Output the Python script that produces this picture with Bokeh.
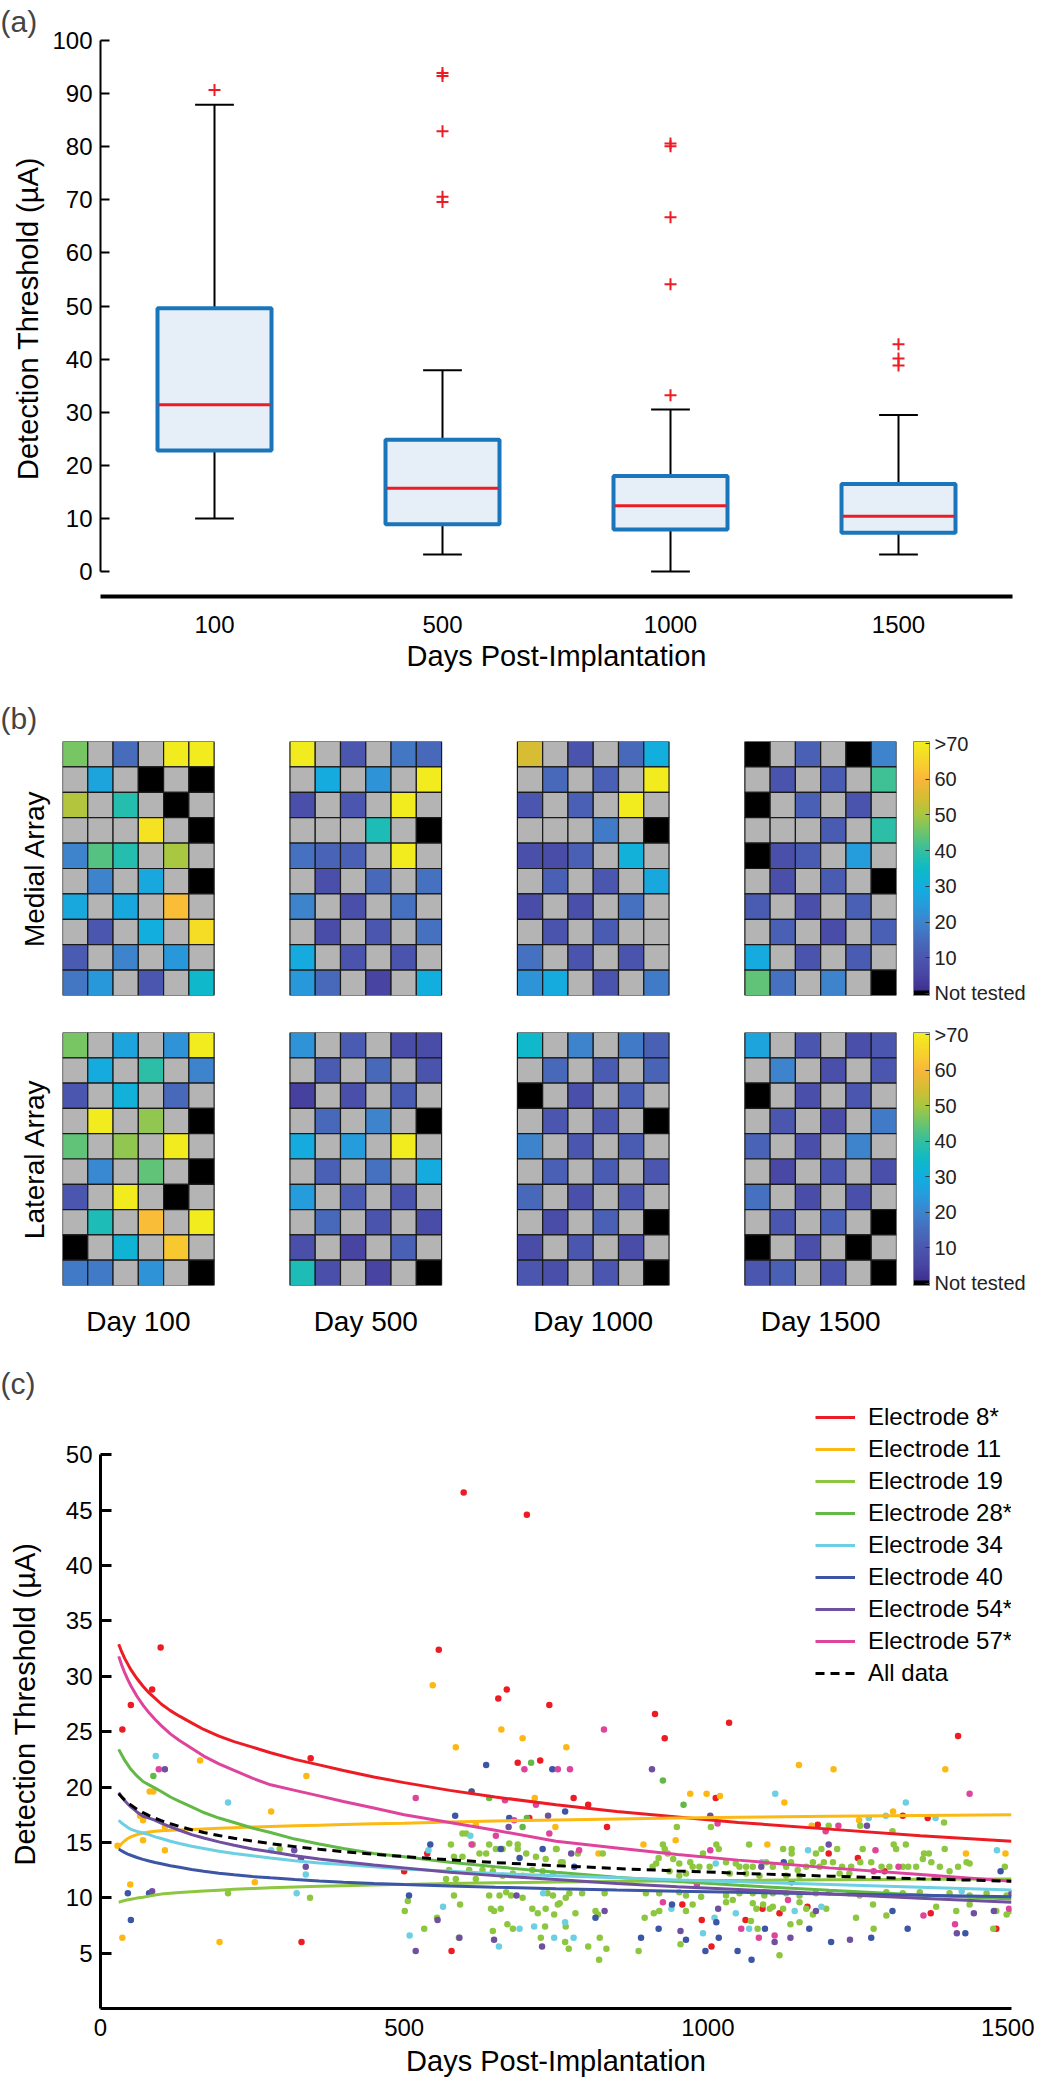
import numpy as np
from bokeh.plotting import figure
from bokeh.models import (Range1d, FactorRange, FixedTicker, LinearColorMapper, ColorBar,
                          Legend, LegendItem, ColumnDataSource, LinearAxis)
from bokeh.transform import dodge
from bokeh.layouts import column
from bokeh.embed import file_html
from bokeh.resources import INLINE

FONT = "Liberation Sans"

# ---------------- Panel (a): box plot data ----------------
box_days = ["100", "500", "1000", "1500"]
box_low = [10.0, 3.2, 0.0, 3.2]
box_q1 = [22.8, 8.9, 7.9, 7.3]
box_median = [31.4, 15.7, 12.4, 10.4]
box_q3 = [49.6, 24.8, 18.0, 16.5]
box_high = [87.9, 37.9, 30.5, 29.5]
outlier_day = ["100", "500", "500", "500", "500", "500", "1000", "1000", "1000", "1000", "1000",
               "1500", "1500", "1500"]
outlier_value = [90.7, 93.9, 93.3, 82.9, 70.6, 69.6, 80.6, 80.1, 66.7, 54.1, 33.2, 42.8, 40.1, 38.8]

# ---------------- Panel (b): electrode maps (G = unused, 0 = not tested) ----------------
G = None
grid_labels = ["Day 100", "Day 500", "Day 1000", "Day 1500"]
medial_d100 = [[46, G, 15, G, 70, 70], [G, 27, G, 0, G, 0], [51, G, 38, G, 0, G], [G, G, G, 68, G, 0],
               [20, 43, 38, G, 50, G], [G, 20, G, 28, G, 0], [28, G, 28, G, 61, G], [G, 10, G, 30, G, 67],
               [11, G, 20, G, 24, G], [17, 24, G, 10, G, 34]]
medial_d500 = [[70, G, 10, G, 17, 14], [G, 29, G, 23, G, 70], [8, G, 10, G, 70, G], [G, G, G, 37, G, 0],
               [16, 13, 12, G, 70, G], [G, 8, G, 14, G, 16], [20, G, 8, G, 16, G], [G, 7, G, 10, G, 16],
               [29, G, 9, G, 9, G], [24, 14, G, 5, G, 30]]
medial_d1000 = [[55, G, 9, G, 14, 30], [G, 14, G, 12, G, 70], [10, G, 12, G, 70, G], [G, G, G, 18, G, 0],
                [8, 7, 12, G, 31, G], [G, 12, G, 10, G, 28], [7, G, 8, G, 16, G], [G, 9, G, 11, G, G],
                [16, G, 9, G, 9, G], [23, 29, G, 9, G, 18]]
medial_d1500 = [[0, G, 12, G, 0, 20], [G, 9, G, 11, G, 41], [0, G, 12, G, 9, G], [G, G, G, 11, G, 39],
                [0, 8, 11, G, 25, G], [G, 8, G, 11, G, 0], [11, G, 8, G, 12, G], [G, 12, G, 7, G, 12],
                [29, G, 9, G, 11, G], [44, 16, G, 20, G, 0]]
lateral_d100 = [[46, G, 27, G, 23, 70], [G, 29, G, 39, G, 20], [10, G, 31, G, 14, G], [G, 70, G, 48, G, 0],
                [44, G, 48, G, 70, G], [G, 21, G, 44, G, 0], [10, G, 70, G, 0, G], [G, 37, G, 61, G, 70],
                [0, G, 32, G, 63, G], [18, 18, G, 23, G, 0]]
lateral_d500 = [[23, G, 11, G, 7, 7], [G, 11, G, 14, G, 9], [4, G, 8, G, 11, G], [G, 14, G, 20, G, 0],
                [29, G, 25, G, 70, G], [G, 12, G, 16, G, 29], [25, G, 11, G, 9, G], [G, 14, G, 9, G, 7],
                [8, G, 5, G, 12, G], [37, 8, G, 5, G, 0]]
lateral_d1000 = [[34, G, 20, G, 18, 12], [G, 14, G, 11, G, 13], [0, G, 8, G, 12, G], [G, 10, G, 10, G, 0],
                 [20, G, 10, G, 11, G], [G, 12, G, 11, G, 10], [14, G, 8, G, 10, G], [G, 7, G, 12, G, 0],
                 [7, G, 10, G, 7, G], [10, 8, G, 10, G, 0]]
lateral_d1500 = [[27, G, 10, G, 8, 10], [G, 20, G, 8, G, 10], [0, G, 8, G, 10, G], [G, 10, G, 7, G, 18],
                 [13, G, 8, G, 20, G], [G, 6, G, 10, G, 8], [16, G, 7, G, 8, G], [G, 10, G, 12, G, 0],
                 [0, G, 8, G, 0, G], [10, 12, G, 9, G, 0]]
cbar_ticks = [0, 10, 20, 30, 40, 50, 60, 70]

# colormap anchors (value -> colour)
cmap_values = [0, 5, 10, 15, 20, 25, 30, 35, 40, 45, 50, 55, 60, 65, 70]
cmap_colors = ["#3e2b8c", "#4845a2", "#4b57ae", "#476cbc", "#3d84cd", "#259ddd", "#11aede", "#0fbac6",
               "#32bfa0", "#6bc46e", "#a8c740", "#d6bd34", "#f9b73a", "#f7d32c", "#f2ec1e"]

# ---------------- Panel (c): thresholds per electrode ----------------
e8_days = [36, 50, 85, 99, 331, 346, 500, 538, 557, 578, 598, 655, 669, 687, 702, 706, 724, 739, 779, 803,
           834, 913, 929, 958, 990, 1006, 1013, 1035, 1062, 1090, 1118, 1138, 1164, 1181, 1199, 1247, 1291,
           1321, 1362, 1367, 1412, 1475]
e8_vals = [25.2, 27.4, 28.8, 32.6, 6.0, 22.6, 12.4, 14.0, 32.4, 5.2, 46.6, 28.0, 28.8, 22.2, 44.6, 17.2, 22.4,
           27.4, 19.0, 18.4, 16.4, 26.6, 24.4, 9.4, 8.0, 5.6, 19.0, 25.8, 8.0, 9.0, 8.6, 11.4, 9.2, 16.6, 14.0,
           13.6, 12.4, 17.4, 17.2, 8.6, 24.6, 7.2]
e11_days = [28, 36, 49, 65, 70, 70, 81, 87, 106, 106, 164, 196, 254, 281, 339, 547, 585, 611, 618, 660, 695,
            715, 749, 767, 820, 894, 947, 971, 998, 1020, 1098, 1126, 1150, 1171, 1207, 1249, 1305, 1391,
            1425, 1490]
e11_vals = [14.7, 6.4, 11.2, 17.4, 17.0, 15.2, 19.6, 19.6, 16.4, 14.3, 22.4, 6.0, 11.4, 17.8, 21.0, 29.2,
            23.6, 19.6, 16.6, 25.2, 24.4, 19.0, 16.4, 23.6, 14.0, 14.8, 15.2, 19.4, 19.4, 19.2, 14.8, 18.6,
            22.0, 16.5, 21.6, 17.0, 17.8, 21.6, 14.0, 14.0]
e19_days = [577, 596, 602, 613, 624, 635, 640, 651, 662, 673, 687, 687, 701, 717, 733, 750, 758, 582, 596,
            574, 585, 569, 607, 618, 629, 646, 662, 679, 695, 711, 728, 745, 582, 592, 640, 657, 643, 648,
            659, 668, 676, 695, 711, 720, 733, 747, 756, 736, 670, 679, 646, 732, 725, 590, 506, 501, 533,
            554, 345, 210, 295,
            949, 1005, 1199, 1251, 1304, 1389, 926, 929, 1014, 1018, 1068, 1124, 1138, 1138, 1178, 1187,
            1213, 1255, 1306, 1310, 1326, 1356, 1364, 1390, 1354, 751, 786, 827, 761, 909, 915, 919, 934,
            943, 953, 971, 975, 986, 992, 1003, 1030, 1046, 1052, 1063, 1074, 1096, 1107, 1129, 1137, 1148,
            1162, 1173, 1184, 1191, 1206, 1221, 1236, 1251, 1269, 1286, 1299, 1321, 1330, 1343, 1368, 1382,
            1398, 1412, 1426, 1431, 1489, 937, 953, 964, 1036, 1063, 1085, 1129, 1151, 1217, 1233, 745,
            766, 772, 793, 830, 898, 920, 953, 964, 989, 1030, 1052, 1074, 1093, 1107, 1129, 1151, 1178,
            1200, 1233, 1250, 1294, 1321, 1349, 1398, 1431, 1459, 1492, 753, 975, 1030, 1041, 1074, 1080,
            1091, 1102, 1107, 1124, 1151, 1162, 1173, 1195, 1272, 1294, 1376, 1409, 1431, 1475, 1492, 1498,
            766, 896, 1071, 1082, 1136, 1151, 1244, 1273, 1470, 765, 771, 803, 821, 833, 822, 886, 955,
            1118, 782, 815, 819, 911, 920, 964]
e19_vals = [14.8, 15.8, 15.8, 14.8, 14.0, 14.0, 14.8, 14.4, 14.4, 14.9, 14.8, 14.4, 14.0, 13.7, 13.5, 14.4,
            13.2, 13.7, 13.7, 12.5, 11.7, 11.7, 12.5, 11.7, 12.5, 12.4, 12.0, 12.2, 12.0, 12.5, 12.4, 12.2,
            10.2, 9.4, 10.2, 10.2, 9.0, 8.8, 9.0, 10.5, 10.2, 10.0, 9.0, 8.6, 9.0, 8.5, 9.5, 10.4, 7.6, 7.2,
            7.0, 7.4, 6.4, 6.4, 9.7, 8.8, 7.2, 8.2, 10.0, 10.4, 14.4,
            16.4, 16.4, 16.5, 16.5, 16.0, 16.8, 14.8, 14.4, 14.8, 14.4, 14.8, 14.4, 14.4, 14.0, 14.0, 14.4,
            14.4, 14.4, 14.8, 14.4, 14.8, 14.0, 14.0, 14.4, 13.5, 14.4, 14.0, 14.0, 13.2, 12.8, 13.1, 13.6,
            14.0, 13.5, 13.1, 13.2, 12.8, 12.8, 14.0, 12.8, 13.2, 13.1, 12.8, 12.8, 12.8, 13.2, 12.8, 12.8,
            13.2, 12.5, 12.8, 13.2, 12.8, 13.2, 13.2, 12.8, 12.8, 13.2, 13.2, 12.8, 12.8, 12.8, 12.8, 12.8,
            13.2, 12.8, 12.4, 12.8, 13.2, 13.1, 12.8, 12.4, 12.0, 12.2, 12.2, 12.2, 12.0, 12.0, 12.0, 12.2,
            12.2, 10.2, 10.0, 10.4, 10.4, 10.4, 10.4, 10.4, 10.5, 10.2, 10.1, 10.2, 10.4, 10.4, 10.2, 10.4,
            10.4, 10.2, 10.4, 10.5, 10.4, 10.2, 10.5, 10.4, 10.5, 10.4, 10.2, 10.4, 10.2, 9.4, 9.4, 9.6, 9.8,
            9.5, 9.0, 9.4, 9.0, 9.2, 9.0, 9.6, 9.0, 8.5, 9.0, 9.4, 8.4, 9.2, 8.8, 9.4, 8.8, 8.5, 8.8, 7.4,
            8.2, 7.9, 7.2, 7.6, 7.8, 8.2, 7.2, 7.2, 6.0, 5.4, 5.6, 4.4, 5.4, 6.4, 5.2, 5.8, 4.8, 8.6, 8.8,
            8.5, 8.6, 8.8, 8.8]
e28_days = [87, 640, 695, 702, 709, 926, 960]
e28_vals = [21.0, 19.0, 16.4, 17.2, 22.2, 20.6, 18.4]
e34_days = [91, 210, 281, 323, 338, 509, 540, 564, 609, 656, 690, 714, 729, 747, 765, 779, 940, 992, 1011,
            1013, 1046, 1068, 1089, 1111, 1143, 1165, 1187, 1265, 1293, 1326, 1375, 1418, 1476]
e34_vals = [22.8, 18.6, 14.3, 10.4, 12.1, 6.6, 14.3, 9.2, 15.6, 5.6, 7.2, 7.4, 10.4, 6.4, 7.8, 6.4, 9.0, 6.8,
            8.2, 13.1, 8.6, 7.2, 13.2, 19.4, 8.8, 14.3, 9.2, 17.2, 17.4, 18.6, 17.2, 10.6, 14.3]
e40_days = [45, 50, 80, 508, 543, 584, 611, 635, 659, 673, 690, 728, 744, 765, 780, 815, 890, 919, 941, 964,
            996, 1014, 1018, 1049, 1072, 1094, 1125, 1167, 1203, 1269, 1304, 1329, 1424, 1482]
e40_vals = [10.4, 8.0, 10.4, 10.2, 14.8, 17.4, 19.6, 22.0, 14.4, 17.2, 13.6, 14.4, 21.6, 17.8, 12.8, 8.2, 6.4,
            7.2, 9.4, 6.2, 5.2, 7.8, 6.4, 5.2, 4.4, 7.2, 13.2, 7.2, 6.0, 6.4, 8.8, 7.2, 6.8, 12.4]
e54_days = [85, 106, 319, 330, 338, 519, 555, 591, 648, 672, 685, 727, 737, 775, 830, 908, 955, 1004, 1017,
            1088, 1110, 1136, 1178, 1199, 1234, 1262, 1410, 1438, 1471, 1500]
e54_vals = [10.6, 21.6, 14.3, 13.5, 12.8, 5.2, 8.0, 6.4, 6.2, 16.4, 10.2, 5.6, 17.4, 14.0, 8.8, 21.6, 7.0,
            17.4, 9.0, 12.8, 6.0, 6.4, 8.8, 14.8, 6.2, 16.5, 6.8, 8.6, 8.8, 10.4]
e57_days = [96, 519, 611, 651, 666, 681, 698, 717, 739, 753, 773, 788, 829, 926, 982, 1004, 1016, 1055, 1084,
            1110, 1132, 1194, 1215, 1273, 1276, 1314, 1355, 1407, 1431, 1496]
e57_vals = [21.6, 19.0, 14.8, 15.6, 18.8, 17.0, 21.6, 18.4, 15.8, 21.6, 21.6, 14.3, 25.2, 9.6, 11.2, 14.3,
            16.7, 7.2, 6.4, 6.6, 9.8, 16.0, 16.5, 12.4, 14.3, 12.8, 8.4, 7.6, 19.4, 9.0]

# fitted curves at these days
fit_days = [30, 35, 40, 45, 50, 60, 70, 80, 90, 100, 115, 130, 150, 170, 195, 220, 250, 280, 320, 360, 400,
            450, 500, 575, 650, 750, 850, 950, 1050, 1200, 1350, 1500]
fit_e8 = [32.9, 32.2, 31.6, 31.1, 30.6, 29.8, 29.1, 28.5, 28.0, 27.5, 26.9, 26.4, 25.8, 25.2, 24.6, 24.1,
          23.6, 23.1, 22.5, 22.0, 21.5, 20.9, 20.4, 19.7, 19.1, 18.4, 17.8, 17.3, 16.8, 16.2, 15.6, 15.1]
fit_e11 = [14.6, 14.9, 15.15, 15.35, 15.5, 15.7, 15.85, 15.95, 16.0, 16.05, 16.1, 16.12, 16.17, 16.22, 16.28,
           16.33, 16.39, 16.44, 16.5, 16.56, 16.62, 16.68, 16.74, 16.84, 16.93, 17.03, 17.12, 17.2, 17.27,
           17.36, 17.44, 17.5]
fit_e19 = [9.6, 9.68, 9.75, 9.82, 9.87, 9.97, 10.05, 10.15, 10.25, 10.33, 10.4, 10.47, 10.55, 10.62, 10.69,
           10.76, 10.83, 10.9, 10.97, 11.03, 11.09, 11.15, 11.21, 11.29, 11.35, 11.42, 11.48, 11.53, 11.57,
           11.62, 11.67, 11.7]
fit_e28 = [23.4, 22.9, 22.4, 22.0, 21.6, 21.0, 20.5, 20.2, 19.9, 19.6, 19.1, 18.7, 18.2, 17.7, 17.2, 16.8,
           16.3, 15.9, 15.3, 14.85, 14.45, 14.0, 13.7, 13.2, 12.8, 12.3, 11.85, 11.47, 11.12, 10.67, 10.26, 9.9]
fit_e34 = [17.0, 16.75, 16.54, 16.35, 16.18, 16.0, 15.85, 15.7, 15.5, 15.35, 15.1, 14.9, 14.65, 14.45, 14.2,
           14.0, 13.8, 13.6, 13.35, 13.15, 13.0, 12.8, 12.6, 12.4, 12.2, 12.0, 11.8, 11.6, 11.45, 11.2, 10.95,
           10.7]
fit_e40 = [14.4, 14.23, 14.08, 13.95, 13.84, 13.64, 13.47, 13.32, 13.19, 13.08, 12.9, 12.75, 12.55, 12.4,
           12.22, 12.08, 11.92, 11.8, 11.65, 11.52, 11.41, 11.3, 11.2, 11.07, 10.95, 10.82, 10.7, 10.59, 10.49,
           10.35, 10.22, 10.1]
fit_e54 = [19.5, 19.11, 18.77, 18.47, 18.21, 17.75, 17.36, 17.2, 17.0, 16.75, 16.4, 16.1, 15.7, 15.4, 15.05,
           14.75, 14.4, 14.15, 13.8, 13.5, 13.25, 12.95, 12.7, 12.3, 12.0, 11.65, 11.3, 11.0, 10.75, 10.35,
           9.95, 9.6]
fit_e57 = [31.8, 31.0, 30.3, 29.7, 29.15, 28.2, 27.4, 26.7, 26.1, 25.55, 24.8, 24.2, 23.5, 22.8, 22.1, 21.5,
           20.8, 20.2, 19.7, 19.2, 18.7, 18.1, 17.5, 16.8, 16.1, 15.1, 14.5, 13.9, 13.4, 12.7, 12.1, 11.5]
fit_all = [19.4, 19.09, 18.82, 18.58, 18.37, 18.0, 17.69, 17.42, 17.18, 16.97, 16.69, 16.44, 16.15, 15.9,
           15.62, 15.38, 15.12, 14.89, 14.62, 14.38, 14.17, 13.93, 13.72, 13.43, 13.18, 12.9, 12.64, 12.42,
           12.22, 11.95, 11.71, 11.5]

electrode_labels = ["Electrode 8*", "Electrode 11", "Electrode 19", "Electrode 28*", "Electrode 34",
                    "Electrode 40", "Electrode 54*", "Electrode 57*"]
electrode_colors = ["#ED1C24", "#FDB913", "#8DC63F", "#62B946", "#6CCFE2", "#3C55A5", "#6F4FA0", "#DE449C"]


# ---------------- helpers ----------------
def style_common(p):
    p.outline_line_color = None
    p.grid.visible = False
    p.background_fill_color = "white"
    p.border_fill_color = "white"
    p.frame_align = False


def panel_title(p, text, offset, standoff):
    p.title.text = text
    p.title.text_font = FONT
    p.title.text_font_size = "30px"
    p.title.text_font_style = "normal"
    p.title.align = "left"
    p.title.offset = offset
    p.title.standoff = standoff


# ---------------- Panel (a) ----------------
pa = figure(width=1034, height=692, x_range=FactorRange(*box_days), y_range=Range1d(-4.7, 100),
            output_backend="svg", toolbar_location=None, min_border_left=100, min_border_right=22,
            min_border_top=39, min_border_bottom=96)
style_common(pa)
panel_title(pa, "(a)", -100, 5)
src_a = ColumnDataSource(dict(day=box_days, low=box_low, q1=box_q1, med=box_median, q3=box_q3, high=box_high))
pa.segment(x0="day", y0="q3", x1="day", y1="high", source=src_a, line_color="black", line_width=2)
pa.segment(x0="day", y0="low", x1="day", y1="q1", source=src_a, line_color="black", line_width=2)
pa.segment(x0=dodge("day", -0.085, range=pa.x_range), x1=dodge("day", 0.085, range=pa.x_range),
           y0="high", y1="high", source=src_a, line_color="black", line_width=2)
pa.segment(x0=dodge("day", -0.085, range=pa.x_range), x1=dodge("day", 0.085, range=pa.x_range),
           y0="low", y1="low", source=src_a, line_color="black", line_width=2)
pa.vbar(x="day", bottom="q1", top="q3", width=0.5, source=src_a, fill_color="#E6EFF7",
        line_color="#1B75BB", line_width=4)
pa.segment(x0=dodge("day", -0.245, range=pa.x_range), x1=dodge("day", 0.245, range=pa.x_range),
           y0="med", y1="med", source=src_a, line_color="#ED1C24", line_width=3)
pa.scatter(x=outlier_day, y=outlier_value, marker="cross", size=12, line_color="#ED1C24", line_width=2)

pa.yaxis.ticker = FixedTicker(ticks=list(range(0, 101, 10)))
pa.yaxis.bounds = (0, 100)
pa.yaxis.axis_label = "Detection Threshold (µA)"
pa.yaxis.axis_line_width = 2
pa.yaxis.major_tick_line_width = 2
pa.yaxis.major_tick_in = 9
pa.yaxis.major_tick_out = 0
pa.yaxis.minor_tick_line_color = None
pa.yaxis.major_label_standoff = 8
pa.yaxis.axis_label_standoff = 5
pa.xaxis.axis_label = "Days Post-Implantation"
pa.xaxis.axis_line_width = 4
pa.xaxis.major_tick_line_color = None
pa.xaxis.major_label_standoff = 13
pa.xaxis.axis_label_standoff = 4
for ax in (pa.xaxis[0], pa.yaxis[0]):
    ax.major_label_text_font = FONT
    ax.major_label_text_font_size = "24px"
    ax.major_label_text_color = "black"
    ax.axis_label_text_font = FONT
    ax.axis_label_text_font_size = "29px"
    ax.axis_label_text_font_style = "normal"
    ax.axis_label_text_color = "black"

# ---------------- Panel (b) ----------------
N_PAL = 356
LOW, HIGH = -0.6, 70.6
anchor_rgb = np.array([[int(c[i:i + 2], 16) for i in (1, 3, 5)] for c in cmap_colors], dtype=float)
palette = []
for i in range(N_PAL):
    v = LOW + (i + 0.5) * (HIGH - LOW) / N_PAL
    if v < 0.8:
        palette.append("#000000")
    else:
        rgb = [np.interp(v, cmap_values, anchor_rgb[:, k]) for k in range(3)]
        palette.append("#%02x%02x%02x" % tuple(int(round(c)) for c in rgb))
mapper = LinearColorMapper(palette=palette, low=LOW, high=HIGH, nan_color="#B4B4B4")

GRID_STEP = 9


def grid_source(grids):
    xs, ys, vs = [], [], []
    for g, grid in enumerate(grids):
        for r, row in enumerate(grid):
            for c, v in enumerate(row):
                xs.append(g * GRID_STEP + c + 0.5)
                ys.append(r + 0.5)
                vs.append(np.nan if v is None else float(v))
    return ColumnDataSource(dict(x=xs, y=ys, v=vs))


def grid_fig(grids, label, height, top, bottom, with_x):
    p = figure(width=1034, height=height, x_range=Range1d(0, 3 * GRID_STEP + 6), y_range=Range1d(10, 0),
               output_backend="svg", toolbar_location=None, min_border_left=62, min_border_right=138,
               min_border_top=top, min_border_bottom=bottom,
               x_axis_location="below" if with_x else None)
    style_common(p)
    p.rect(x="x", y="y", width=1, height=1, source=grid_source(grids),
           fill_color={"field": "v", "transform": mapper}, line_color="#1a1a1a", line_width=1.2)
    p.yaxis.ticker = FixedTicker(ticks=[])
    p.yaxis.axis_line_color = None
    p.yaxis.major_tick_line_color = None
    p.yaxis.minor_tick_line_color = None
    p.yaxis.axis_label = label
    p.yaxis.axis_label_text_font = FONT
    p.yaxis.axis_label_text_font_size = "28px"
    p.yaxis.axis_label_text_font_style = "normal"
    p.yaxis.axis_label_text_color = "black"
    p.yaxis.axis_label_standoff = 13
    if with_x:
        centers = [g * GRID_STEP + 3 for g in range(4)]
        p.xaxis.ticker = FixedTicker(ticks=centers)
        p.xaxis.major_label_overrides = {c: lab for c, lab in zip(centers, grid_labels)}
        p.xaxis.axis_line_color = None
        p.xaxis.major_tick_line_color = None
        p.xaxis.minor_tick_line_color = None
        p.xaxis.major_label_text_font = FONT
        p.xaxis.major_label_text_font_size = "28px"
        p.xaxis.major_label_text_color = "black"
        p.xaxis.major_label_standoff = 14
    # empty spacer axis keeps a small gap between the maps and the colour bar
    gap = LinearAxis(ticker=FixedTicker(ticks=[]), axis_line_color=None, major_tick_line_color=None,
                     minor_tick_line_color=None, axis_label=" ", axis_label_text_font_size="2px",
                     axis_label_standoff=12)
    p.add_layout(gap, "right")
    cb = ColorBar(color_mapper=mapper, ticker=FixedTicker(ticks=cbar_ticks),
                  major_label_overrides={0: "Not tested", 70: ">70"}, width=16, padding=0, margin=0,
                  label_standoff=5, major_label_text_font=FONT, major_label_text_font_size="20px",
                  major_label_text_color="#222222", major_tick_line_color="#333333", major_tick_in=4,
                  major_tick_out=0, minor_tick_line_color=None, bar_line_color="#888888",
                  border_line_color=None, background_fill_alpha=0)
    p.add_layout(cb, "right")
    return p


pb1 = grid_fig([medial_d100, medial_d500, medial_d1000, medial_d1500], "Medial Array", 320, 48, 17, False)
panel_title(pb1, "(b)", -62, 14)
pb2 = grid_fig([lateral_d100, lateral_d500, lateral_d1000, lateral_d1500], "Lateral Array", 336, 20, 63, True)

# ---------------- Panel (c) ----------------
# the frame reaches a little above 50 so the legend (which sits above the top tick) is not clipped;
# the y axis itself is bounded to 0-50
pc = figure(width=1034, height=732, x_range=Range1d(0, 1500), y_range=Range1d(0, 55),
            output_backend="svg", toolbar_location=None, min_border_left=100, min_border_right=23,
            min_border_top=51, min_border_bottom=72)
style_common(pc)
panel_title(pc, "(c)", -100, 0)
scatter_sets = [(e8_days, e8_vals), (e11_days, e11_vals), (e19_days, e19_vals), (e28_days, e28_vals),
                (e34_days, e34_vals), (e40_days, e40_vals), (e54_days, e54_vals), (e57_days, e57_vals)]
for (dx, dy), col in zip(scatter_sets, electrode_colors):
    pc.scatter(x=dx, y=dy, size=6.5, fill_color=col, line_color=None)
fits = [fit_e8, fit_e11, fit_e19, fit_e28, fit_e34, fit_e40, fit_e54, fit_e57]
line_rs = []
for fy, col, lab in zip(fits, electrode_colors, electrode_labels):
    r = pc.line(x=fit_days, y=fy, line_color=col, line_width=3)
    line_rs.append((lab, r))
r_all = pc.line(x=fit_days, y=fit_all, line_color="black", line_width=3, line_dash="9 6")
items = [LegendItem(label=lab, renderers=[r]) for lab, r in line_rs]
items.append(LegendItem(label="All data", renderers=[r_all]))
legend = Legend(items=items, location=(715, 320), label_text_font=FONT, label_text_font_size="24px",
                label_text_color="black", glyph_width=40, glyph_height=30, label_height=30, spacing=2,
                padding=0, margin=0, label_standoff=13, border_line_color=None, background_fill_alpha=0)
pc.add_layout(legend)

pc.yaxis.ticker = FixedTicker(ticks=list(range(5, 51, 5)))
pc.yaxis.bounds = (0, 50)
pc.xaxis.ticker = FixedTicker(ticks=[0, 500, 1000, 1500])
pc.yaxis.axis_label = "Detection Threshold (µA)"
pc.xaxis.axis_label = "Days Post-Implantation"
pc.yaxis.axis_line_width = 3
pc.yaxis.major_tick_line_width = 3
pc.yaxis.major_tick_in = 11
pc.yaxis.major_tick_out = 0
pc.yaxis.minor_tick_line_color = None
pc.yaxis.major_label_standoff = 8
pc.yaxis.axis_label_standoff = 22
pc.xaxis.axis_line_width = 3
pc.xaxis.major_tick_line_color = None
pc.xaxis.minor_tick_line_color = None
pc.xaxis.major_label_standoff = 4
pc.xaxis.axis_label_standoff = 6
for ax in (pc.xaxis[0], pc.yaxis[0]):
    ax.major_label_text_font = FONT
    ax.major_label_text_font_size = "24px"
    ax.major_label_text_color = "black"
    ax.axis_label_text_font = FONT
    ax.axis_label_text_font_size = "29px"
    ax.axis_label_text_font_style = "normal"
    ax.axis_label_text_color = "black"

layout = column(pa, pb1, pb2, pc, spacing=0)
open("out.html", "w").write(file_html(layout, INLINE))
